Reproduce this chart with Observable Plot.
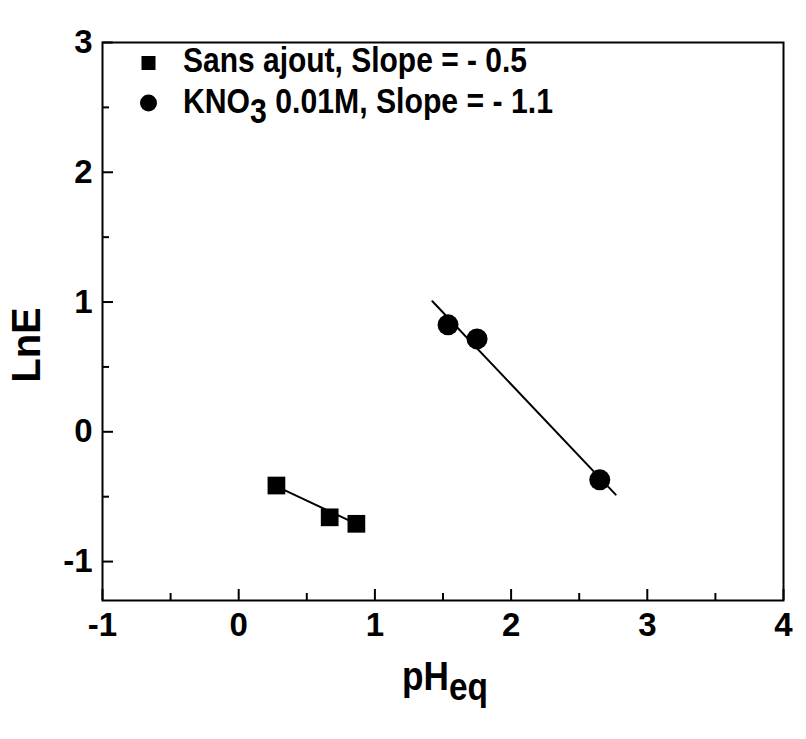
<!DOCTYPE html>
<html>
<head>
<meta charset="utf-8">
<script src="https://cdn.jsdelivr.net/npm/d3@7"></script>
<script src="https://cdn.jsdelivr.net/npm/@observablehq/plot@0.6"></script>
<style>
  html, body { margin: 0; padding: 0; background: #fff; }
  #chart { width: 806px; height: 739px; }
</style>
</head>
<body>
<div id="chart"></div>
<script>
// Data
const sansAjoutPH = [0.277, 0.668, 0.864];
const sansAjoutLnE = [-0.414, -0.659, -0.709];
const kno3PH = [1.537, 1.750, 2.651];
const kno3LnE = [0.824, 0.716, -0.370];
// Fitted lines (endpoints as drawn)
const sansFitPH = [0.277, 0.864];
const sansFitLnE = [-0.42, -0.71];
const kno3FitPH = [1.422, 2.768];
const kno3FitLnE = [1.006, -0.484];
// Ticks
const xMajor = [-1, 0, 1, 2, 3, 4];
const xMinor = [-0.5, 0.5, 1.5, 2.5, 3.5];
const yMajor = [-1, 0, 1, 2, 3];
const yMinor = [-0.5, 0.5, 1.5, 2.5];
const legendLabels = ["Sans ajout, Slope = - 0.5", "KNO", "3", " 0.01M, Slope = - 1.1"];

const sans = sansAjoutPH.map((x, i) => ({x, y: sansAjoutLnE[i]}));
const kno3 = kno3PH.map((x, i) => ({x, y: kno3LnE[i]}));
const sansFit = sansFitPH.map((x, i) => ({x, y: sansFitLnE[i]}));
const kno3Fit = kno3FitPH.map((x, i) => ({x, y: kno3FitLnE[i]}));

const FONT = "'Liberation Sans Narrow', 'Arial Narrow', 'Liberation Sans', Arial, sans-serif";
const tickFont = {fontSize: 33, fontWeight: "bold", fontFamily: FONT};

const chart = Plot.plot({
  width: 806,
  height: 739,
  marginLeft: 102,
  marginRight: 23,
  marginTop: 42,
  marginBottom: 139,
  style: {background: "#fff", color: "#000", fontFamily: FONT},
  x: {domain: [-1, 4]},
  y: {domain: [-1.3, 3]},
  marks: [
    Plot.axisX({ticks: xMajor, tickSize: -11, fill: "none", label: null, strokeWidth: 2}),
    Plot.axisX({ticks: xMinor, tickSize: -7, fill: "none", label: null, strokeWidth: 2}),
    Plot.axisY({ticks: yMajor, tickSize: -11, fill: "none", label: null, strokeWidth: 2}),
    Plot.axisY({ticks: yMinor, tickSize: -7, fill: "none", label: null, strokeWidth: 2}),
    Plot.axisX({ticks: xMajor, tickSize: 0, tickPadding: 12, label: null, tickFormat: d => String(d), ...tickFont}),
    Plot.axisY({ticks: yMajor, tickSize: 0, tickPadding: 10, label: null, tickFormat: d => String(d), ...tickFont}),
    Plot.frame({stroke: "#000", strokeWidth: 2}),
    Plot.line(sansFit, {x: "x", y: "y", stroke: "#000", strokeWidth: 2}),
    Plot.line(kno3Fit, {x: "x", y: "y", stroke: "#000", strokeWidth: 2}),
    Plot.dot(sans, {x: "x", y: "y", symbol: "square", r: 10, fill: "#000", stroke: null}),
    Plot.dot(kno3, {x: "x", y: "y", symbol: "circle", r: 10.5, fill: "#000", stroke: null})
  ]
});
document.getElementById("chart").appendChild(chart);

const svg = d3.select(chart);
// Axis titles
svg.append("text")
  .attr("transform", "translate(40,345) rotate(-90)")
  .attr("text-anchor", "middle")
  .attr("font-family", "'Liberation Sans', Arial, sans-serif")
  .attr("font-weight", "bold")
  .attr("font-size", 40)
  .text("LnE");
const xl = svg.append("text")
  .attr("x", 402).attr("y", 690)
  .attr("text-anchor", "start")
  .attr("font-family", FONT)
  .attr("font-weight", "bold")
  .attr("font-size", 40)
  .attr("textLength", 86).attr("lengthAdjust", "spacingAndGlyphs");
xl.append("tspan").text("pH");
xl.append("tspan").attr("dy", 10).attr("font-size", 38).text("eq");

// Legend
const lg = svg.append("g").attr("text-anchor", "start");
lg.append("rect").attr("x", 141.5).attr("y", 56).attr("width", 14).attr("height", 14).attr("fill", "#000");
lg.append("circle").attr("cx", 148.5).attr("cy", 103).attr("r", 8.5).attr("fill", "#000");
lg.append("text")
  .attr("x", 183).attr("y", 72)
  .attr("text-anchor", "start")
  .attr("font-family", FONT).attr("font-weight", "bold").attr("font-size", 35)
  .attr("textLength", 344).attr("lengthAdjust", "spacingAndGlyphs")
  .text(legendLabels[0]);
const t2 = lg.append("text")
  .attr("x", 183).attr("y", 113)
  .attr("text-anchor", "start")
  .attr("font-family", FONT).attr("font-weight", "bold").attr("font-size", 35)
  .attr("textLength", 370).attr("lengthAdjust", "spacingAndGlyphs");
t2.append("tspan").text(legendLabels[1]);
t2.append("tspan").attr("dy", 10).text(legendLabels[2]);
t2.append("tspan").attr("dy", -10).text(legendLabels[3]);
</script>
</body>
</html>
